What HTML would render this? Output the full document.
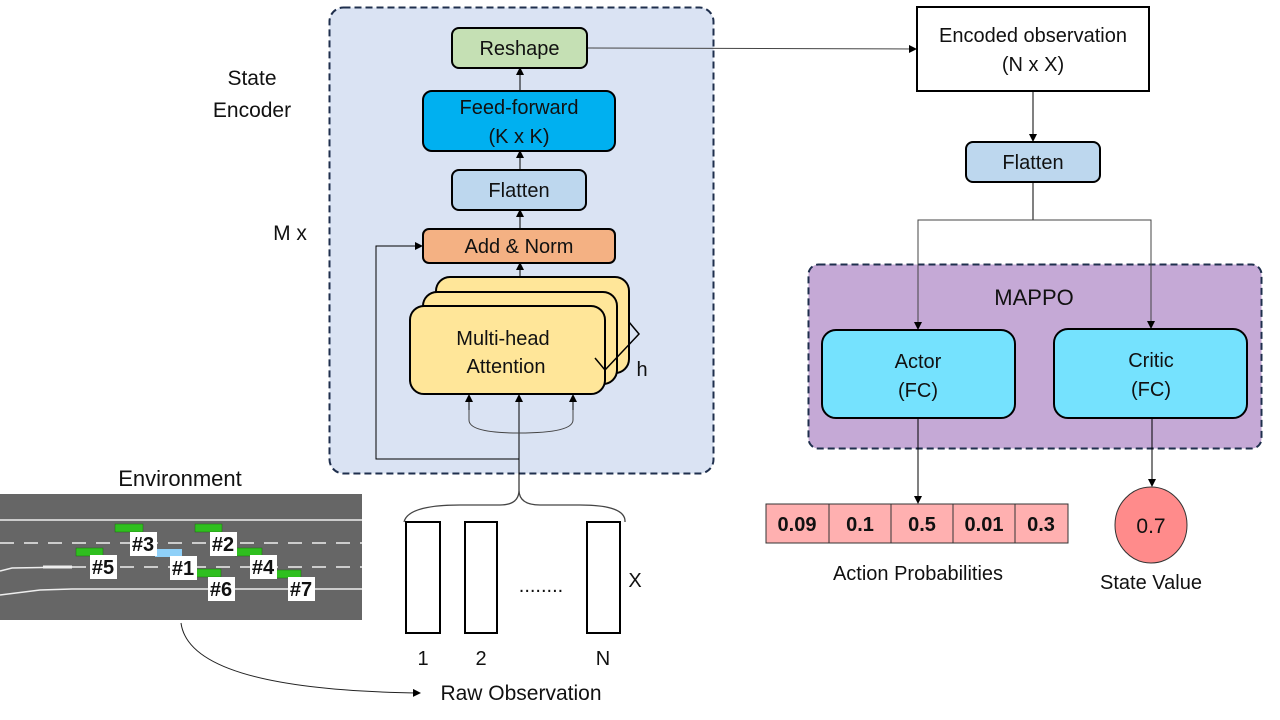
<!DOCTYPE html>
<html><head><meta charset="utf-8"><style>
html,body{margin:0;padding:0;background:#fff;width:1280px;height:720px;overflow:hidden}
svg{display:block}
text{font-family:"Liberation Sans",sans-serif;fill:#111}
</style></head><body>
<svg width="1280" height="720" viewBox="0 0 1280 720" xmlns="http://www.w3.org/2000/svg">
<defs>
<marker id="a" markerWidth="8" markerHeight="8" refX="7" refY="4" orient="auto" markerUnits="userSpaceOnUse">
<path d="M0,0 L8,4 L0,8 z" fill="#000"/></marker>
</defs>
<!-- encoder -->
<rect x="329.5" y="7.5" width="384" height="466" rx="14" fill="#dae3f3" stroke="#1f2f4d" stroke-width="2" stroke-dasharray="7,4"/>
<text x="252" y="85" font-size="21" text-anchor="middle">State</text>
<text x="252" y="117" font-size="21" text-anchor="middle">Encoder</text>
<text x="290" y="240" font-size="21" text-anchor="middle">M x</text>

<rect x="452" y="28" width="135" height="40" rx="7" fill="#c5e0b4" stroke="#000" stroke-width="2"/>
<text x="519.5" y="55" font-size="20" text-anchor="middle">Reshape</text>
<rect x="423" y="91" width="192" height="60" rx="9" fill="#00b0f0" stroke="#000" stroke-width="2"/>
<text x="519" y="114" font-size="20" text-anchor="middle">Feed-forward</text>
<text x="519" y="143" font-size="20" text-anchor="middle">(K x K)</text>
<rect x="452" y="170" width="134" height="40" rx="7" fill="#bdd7ee" stroke="#000" stroke-width="2"/>
<text x="519" y="197" font-size="20" text-anchor="middle">Flatten</text>
<rect x="423" y="229" width="192" height="34" rx="6" fill="#f4b183" stroke="#000" stroke-width="2"/>
<text x="519" y="253" font-size="20" text-anchor="middle">Add &amp; Norm</text>

<line x1="520" y1="91" x2="520" y2="68" stroke="#000" marker-end="url(#a)"/>
<line x1="520" y1="170" x2="520" y2="151" stroke="#000" marker-end="url(#a)"/>
<line x1="520" y1="229" x2="520" y2="210" stroke="#000" marker-end="url(#a)"/>
<line x1="520" y1="277" x2="520" y2="263" stroke="#000" marker-end="url(#a)"/>

<rect x="436" y="277" width="193" height="96" rx="14" fill="#ffe699" stroke="#000" stroke-width="2"/>
<rect x="423" y="292" width="194" height="92" rx="14" fill="#ffe699" stroke="#000" stroke-width="2"/>
<rect x="410" y="306" width="195" height="88" rx="14" fill="#ffe699" stroke="#000" stroke-width="2"/>
<polyline points="595,358 605,370 639,334 629,322" fill="none" stroke="#000" stroke-width="1.5"/>
<text x="503" y="345" font-size="20" text-anchor="middle">Multi-head</text>
<text x="506" y="373" font-size="20" text-anchor="middle">Attention</text>
<text x="642" y="376" font-size="20" text-anchor="middle">h</text>

<line x1="519" y1="490" x2="519" y2="395" stroke="#000" marker-end="url(#a)"/>
<path d="M469,408 L469,420 Q469,433 519,433 Q573,433 573,420 L573,408" fill="none" stroke="#444"/>
<line x1="469" y1="410" x2="469" y2="395" stroke="#000" marker-end="url(#a)"/>
<line x1="573" y1="410" x2="573" y2="395" stroke="#000" marker-end="url(#a)"/>
<polyline points="519,459 376,459 376,246 422,246" fill="none" stroke="#000" marker-end="url(#a)"/>

<line x1="588" y1="48" x2="916" y2="49" stroke="#444" marker-end="url(#a)"/>

<!-- right side -->
<rect x="917" y="7" width="232" height="84" fill="#fff" stroke="#000" stroke-width="2"/>
<text x="1033" y="42" font-size="20" text-anchor="middle">Encoded observation</text>
<text x="1033" y="71" font-size="20" text-anchor="middle">(N x X)</text>
<line x1="1033" y1="91" x2="1033" y2="141" stroke="#000" marker-end="url(#a)"/>
<rect x="966" y="142" width="134" height="40" rx="7" fill="#bdd7ee" stroke="#000" stroke-width="2"/>
<text x="1033" y="169" font-size="20" text-anchor="middle">Flatten</text>
<line x1="1033" y1="182" x2="1033" y2="220" stroke="#000"/>

<rect x="808.5" y="264.5" width="453" height="184" rx="10" fill="#c5a9d6" stroke="#1f2f4d" stroke-width="2" stroke-dasharray="7,4"/>
<polyline points="1033,220 918,220 918,329" fill="none" stroke="#444" marker-end="url(#a)"/>
<polyline points="1033,220 1151,220 1151,328" fill="none" stroke="#444" marker-end="url(#a)"/>
<text x="1034" y="305" font-size="22" text-anchor="middle">MAPPO</text>
<rect x="822" y="330" width="193" height="88" rx="14" fill="#75e2fe" stroke="#000" stroke-width="2"/>
<text x="918" y="368" font-size="20" text-anchor="middle">Actor</text>
<text x="918" y="397" font-size="20" text-anchor="middle">(FC)</text>
<rect x="1054" y="329" width="193" height="89" rx="14" fill="#75e2fe" stroke="#000" stroke-width="2"/>
<text x="1151" y="367" font-size="20" text-anchor="middle">Critic</text>
<text x="1151" y="396" font-size="20" text-anchor="middle">(FC)</text>
<line x1="918" y1="418" x2="918" y2="503" stroke="#000" marker-end="url(#a)"/>
<line x1="1152" y1="418" x2="1152" y2="486" stroke="#000" marker-end="url(#a)"/>

<g stroke="#333" stroke-width="1" fill="#ffb0b0">
<rect x="766" y="504" width="63" height="39"/><rect x="829" y="504" width="62" height="39"/>
<rect x="891" y="504" width="62" height="39"/><rect x="953" y="504" width="62" height="39"/>
<rect x="1015" y="504" width="53" height="39"/></g>
<g font-size="20" font-weight="bold" text-anchor="middle">
<text x="797" y="531">0.09</text><text x="860" y="531">0.1</text><text x="922" y="531">0.5</text>
<text x="984" y="531">0.01</text><text x="1041" y="531">0.3</text></g>
<text x="918" y="580" font-size="20" text-anchor="middle">Action Probabilities</text>
<ellipse cx="1151" cy="525" rx="36" ry="38" fill="#ff8b8b" stroke="#333"/>
<text x="1151" y="533" font-size="21" text-anchor="middle">0.7</text>
<text x="1151" y="589" font-size="20" text-anchor="middle">State Value</text>

<!-- environment -->
<text x="180" y="486" font-size="22" text-anchor="middle">Environment</text>
<rect x="0" y="494" width="362" height="126" fill="#666"/>
<g stroke="#eee" stroke-width="1.5" fill="none">
<line x1="0" y1="520" x2="362" y2="520"/>
<line x1="0" y1="543" x2="362" y2="543" stroke-dasharray="14,10"/>
<line x1="72" y1="567" x2="362" y2="567" stroke-dasharray="14,10"/>
<path d="M0,571 L12,568 L72,567" /><line x1="43" y1="567" x2="72" y2="567" stroke-width="3"/>
<path d="M0,595 L40,590 L72,589 L362,589"/></g>
<g fill="#2fbf1f" stroke="#1a6a10" stroke-width="0.5">
<rect x="115" y="524" width="28" height="8"/><rect x="195" y="524" width="27" height="8"/>
<rect x="76" y="548" width="27" height="8"/><rect x="235" y="548" width="27" height="8"/>
<rect x="194" y="569" width="27" height="8"/><rect x="274" y="570" width="27" height="8"/></g>
<rect x="155" y="549" width="27" height="8" fill="#8fd0f8"/>
<g fill="#fff"><rect x="130" y="532" width="27" height="24"/><rect x="210" y="532" width="27" height="24"/>
<rect x="90" y="555" width="27" height="24"/><rect x="170" y="556" width="27" height="24"/>
<rect x="250" y="555" width="27" height="24"/><rect x="208" y="577" width="27" height="24"/>
<rect x="288" y="577" width="27" height="24"/></g>
<g font-size="20" font-weight="bold" text-anchor="middle">
<text x="143" y="551">#3</text><text x="223" y="551">#2</text><text x="103" y="574">#5</text>
<text x="183" y="575">#1</text><text x="263" y="574">#4</text><text x="221" y="596">#6</text><text x="301" y="596">#7</text></g>

<!-- raw observation -->
<path d="M404,522 Q408,505 460,505 L500,505 Q519,505 519,490 Q519,505 540,505 L580,505 Q626,505 625,522" fill="none" stroke="#444" stroke-width="1.3"/>
<g fill="#fff" stroke="#000" stroke-width="2">
<rect x="406" y="522" width="34" height="111"/><rect x="465" y="522" width="32" height="111"/>
<rect x="587" y="522" width="33" height="111"/></g>
<text x="541" y="592" font-size="20" text-anchor="middle">........</text>
<text x="635" y="587" font-size="20" text-anchor="middle">X</text>
<text x="423" y="665" font-size="20" text-anchor="middle">1</text>
<text x="481" y="665" font-size="20" text-anchor="middle">2</text>
<text x="603" y="665" font-size="20" text-anchor="middle">N</text>
<path d="M181,623 Q190,690 420,693" fill="none" stroke="#222" marker-end="url(#a)"/>
<text x="521" y="700" font-size="21" text-anchor="middle">Raw Observation</text>
</svg>
</body></html>
